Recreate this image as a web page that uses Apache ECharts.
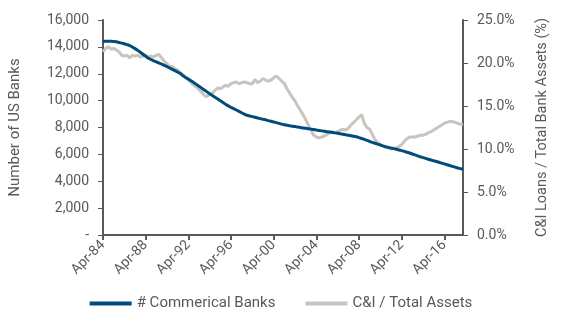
<!DOCTYPE html>
<html>
<head>
<meta charset="utf-8">
<script src="https://cdn.jsdelivr.net/npm/echarts@6/dist/echarts.min.js"></script>
<style>
  html, body { margin: 0; padding: 0; background: #fff; }
  #chart { width: 562px; height: 324px; }
</style>
</head>
<body>
<div id="chart"></div>
<script>
// Quarterly observations, Apr-84 through Jan-18
const quarterMonths = ['Apr', 'Jul', 'Oct', 'Jan'];
const firstYear = 1984;
const quarterCount = 136;

// Number of US commercial banks
const bankCounts = [
  14400, 14410, 14420, 14410, 14400, 14380, 14330, 14280, 14230, 14170,
  14100, 13990, 13870, 13740, 13600, 13450, 13300, 13160, 13060, 12960,
  12880, 12800, 12710, 12620, 12530, 12430, 12330, 12230, 12120, 12020,
  11850, 11720, 11600, 11480, 11350, 11210, 11070, 10930, 10790, 10650,
  10510, 10380, 10250, 10120, 9990, 9860, 9720, 9610, 9500, 9400,
  9300, 9200, 9100, 9000, 8910, 8860, 8810, 8760, 8710, 8660,
  8610, 8570, 8510, 8460, 8410, 8360, 8310, 8250, 8210, 8170,
  8130, 8100, 8070, 8030, 8000, 7970, 7940, 7910, 7880, 7850,
  7810, 7780, 7750, 7720, 7690, 7660, 7630, 7600, 7570, 7530,
  7500, 7460, 7430, 7390, 7350, 7310, 7250, 7180, 7110, 7040,
  6960, 6890, 6830, 6760, 6700, 6630, 6570, 6520, 6470, 6430,
  6380, 6330, 6280, 6220, 6160, 6100, 6030, 5960, 5890, 5820,
  5760, 5700, 5640, 5580, 5520, 5470, 5410, 5350, 5290, 5230,
  5170, 5110, 5050, 4990, 4940, 4890
];

// C&I loans as a share of total bank assets (%)
const ciShare = [
  21.3, 21.7, 21.9, 21.6, 21.7, 21.5, 21.3, 20.9, 20.8, 20.9,
  20.6, 20.9, 20.8, 20.9, 20.7, 20.8, 20.9, 20.7, 20.8, 20.7,
  20.9, 21.0, 20.6, 20.2, 19.9, 19.6, 19.6, 19.3, 19.2, 18.9,
  18.6, 18.3, 18.1, 17.7, 17.4, 17.2, 16.9, 16.6, 16.2, 16.1,
  16.4, 16.5, 16.8, 17.1, 17.0, 17.2, 17.4, 17.3, 17.6, 17.7,
  17.8, 17.6, 17.7, 17.8, 17.7, 17.6, 17.6, 18.1, 17.7, 17.9,
  18.2, 18.0, 17.9, 18.0, 18.3, 18.5, 18.2, 17.9, 17.6, 17.0,
  16.5, 16.0, 15.6, 15.0, 14.5, 14.0, 13.4, 12.8, 12.2, 11.6,
  11.4, 11.3, 11.4, 11.5, 11.7, 11.9, 12.0, 11.9, 12.0, 12.2,
  12.3, 12.2, 12.4, 12.8, 13.1, 13.4, 13.7, 14.0, 13.0, 12.5,
  12.3, 11.7, 11.1, 10.8, 10.5, 10.3, 10.2, 10.1, 10.0, 10.1,
  10.1, 10.3, 10.5, 10.9, 11.2, 11.4, 11.4, 11.4, 11.5, 11.6,
  11.6, 11.7, 11.9, 12.0, 12.2, 12.4, 12.6, 12.8, 13.0, 13.1,
  13.2, 13.2, 13.1, 13.0, 12.9, 12.8
];

// Axis scales
const leftAxisMax = 16000;
const leftAxisStep = 2000;
const rightAxisMax = 25;
const rightAxisStep = 5;

const quarters = [];
for (let i = 0; i < quarterCount; i++) {
  const m = quarterMonths[i % 4];
  const y = firstYear + Math.floor(i / 4) + (i % 4 === 3 ? 1 : 0);
  quarters.push(m + '-' + String(y % 100).padStart(2, '0'));
}

const textColor = '#595959';
const axisColor = '#595959';
const fontFamily = 'Roboto, "Liberation Sans", sans-serif';

const chart = echarts.init(document.getElementById('chart'), null, { renderer: 'canvas' });

chart.setOption({
  animation: false,
  backgroundColor: '#ffffff',
  textStyle: { fontFamily: fontFamily, color: textColor },
  grid: { left: 100, right: 99, top: 20, bottom: 89, containLabel: false },
  legend: {
    bottom: 8,
    left: 'center',
    itemGap: 30,
    itemWidth: 42,
    itemHeight: 4,
    icon: 'rect',
    textStyle: { fontSize: 15, color: textColor, fontFamily: fontFamily },
    data: ['# Commerical Banks', 'C&I / Total Assets']
  },
  xAxis: {
    type: 'category',
    data: quarters,
    boundaryGap: false,
    axisLine: { lineStyle: { color: axisColor, width: 2 } },
    axisTick: { interval: 15, length: 5, lineStyle: { color: axisColor, width: 2 } },
    axisLabel: { interval: 15, rotate: 45, fontSize: 14, color: textColor, margin: 8 },
    splitLine: { show: false }
  },
  yAxis: [
    {
      type: 'value',
      min: 0,
      max: leftAxisMax,
      interval: leftAxisStep,
      name: 'Number of US Banks',
      nameLocation: 'middle',
      nameRotate: 90,
      nameGap: 80,
      nameTextStyle: { fontSize: 15, color: textColor },
      axisLine: { show: true, lineStyle: { color: axisColor, width: 2 } },
      axisTick: { show: true, length: 5, lineStyle: { color: axisColor, width: 1 } },
      axisLabel: {
        fontSize: 14, color: textColor, margin: 14,
        formatter: v => v === 0 ? '-' : v.toLocaleString('en-US')
      },
      splitLine: { show: false }
    },
    {
      type: 'value',
      min: 0,
      max: rightAxisMax,
      interval: rightAxisStep,
      position: 'right',
      name: 'C&I Loans / Total Bank Assets (%)',
      nameLocation: 'middle',
      nameRotate: 90,
      nameGap: 72,
      nameTextStyle: { fontSize: 14.5, color: textColor },
      axisLine: { show: true, lineStyle: { color: axisColor, width: 2 } },
      axisTick: { show: true, length: 5, lineStyle: { color: axisColor, width: 1 } },
      axisLabel: {
        fontSize: 14, color: textColor, margin: 14,
        formatter: v => v.toFixed(1) + '%'
      },
      splitLine: { show: false }
    }
  ],
  series: [
    {
      name: '# Commerical Banks',
      type: 'line',
      yAxisIndex: 0,
      data: bankCounts,
      showSymbol: false,
      symbol: 'none',
      lineStyle: { color: '#004b7a', width: 3 },
      itemStyle: { color: '#004b7a' },
      z: 3
    },
    {
      name: 'C&I / Total Assets',
      type: 'line',
      yAxisIndex: 1,
      data: ciShare,
      showSymbol: false,
      symbol: 'none',
      lineStyle: { color: '#c8c5bf', width: 3 },
      itemStyle: { color: '#c8c5bf' },
      z: 2
    }
  ]
});
</script>
</body>
</html>
